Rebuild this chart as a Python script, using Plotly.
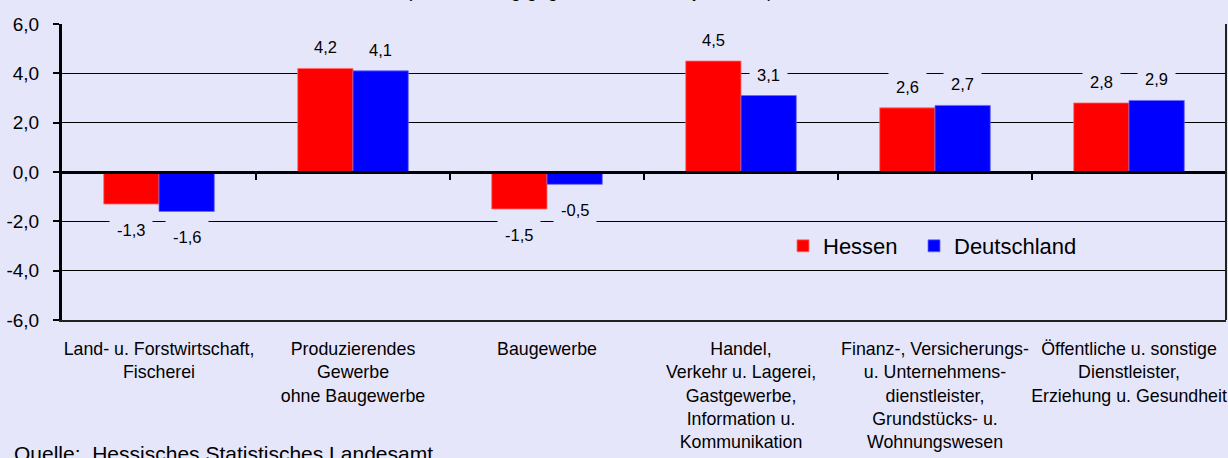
import plotly.graph_objects as go

# ---- data ----
categories = ["Land- u. Forstwirtschaft", "Produzierendes Gewerbe", "Baugewerbe",
              "Handel", "Finanzdienstleister", "Öffentliche Dienstleister"]
tick_labels = [
    "Land- u. Forstwirtschaft,<br>Fischerei",
    "Produzierendes<br>Gewerbe<br>ohne Baugewerbe",
    "Baugewerbe",
    "Handel,<br>Verkehr u. Lagerei,<br>Gastgewerbe,<br>Information u.<br>Kommunikation",
    "Finanz-, Versicherungs-<br>u. Unternehmens-<br>dienstleister,<br>Grundstücks- u.<br>Wohnungswesen",
    "Öffentliche u. sonstige<br>Dienstleister,<br>Erziehung u. Gesundheit",
]
hessen = [-1.3, 4.2, -1.5, 4.5, 2.6, 2.8]
deutschland = [-1.6, 4.1, -0.5, 3.1, 2.7, 2.9]
series_names = ["Hessen", "Deutschland"]
y_ticks = [-6, -4, -2, 0, 2, 4, 6]

# ---- styling ----
BG = "#E6E6FA"
RED = "#FF0000"
BLUE = "#0000FF"
W, H = 1228, 458
ML, MR, MT, MB = 62, 2, 24, 138
PW = W - ML - MR
PH = H - MT - MB
BARGAP = 0.43
REG = "Liberation Sans, Arial, sans-serif"


def fmt(v):
    return f"{v:.1f}".replace(".", ",")


def px_x(p):
    return (p - ML) / PW


def px_y(p):
    return (PH - (p - MT)) / PH


fig = go.Figure()
fig.add_trace(go.Bar(x=categories, y=hessen, name=series_names[0], legend="legend",
                     marker=dict(color=RED, line=dict(color="#FF7070", width=0.8))))
fig.add_trace(go.Bar(x=categories, y=deutschland, name=series_names[1], legend="legend2",
                     marker=dict(color=BLUE, line=dict(color="#6A6AFF", width=0.8))))
# helper trace so the zero-line axis renders
fig.add_trace(go.Scatter(x=[], y=[], xaxis="x2", showlegend=False, hoverinfo="skip"))

cat_px = PW / len(categories)
bar_px = cat_px * (1 - BARGAP) / 2
annotations = []
for vals, sgn in ((hessen, -1), (deutschland, 1)):
    for c, v in zip(categories, vals):
        annotations.append(dict(
            x=c, y=v, xref="x", yref="y", text=fmt(v), showarrow=False,
            xshift=sgn * bar_px / 2, yshift=21 if v >= 0 else -26,
            yanchor="middle", xanchor="center",
            font=dict(family=REG, size=16.5, color="#000000"),
            bgcolor=BG, borderpad=7,
        ))

annotations.append(dict(
    text="(Veränderung gegenüber dem Vorjahr in %)", xref="paper", yref="paper",
    x=px_x(590), y=1, xanchor="center", yanchor="bottom", yshift=21,
    showarrow=False, font=dict(family=REG, size=19, color="#000000")))
annotations.append(dict(
    text="Quelle:  Hessisches Statistisches Landesamt.", xref="paper", yref="paper",
    x=px_x(12), y=px_y(440), xanchor="left", yanchor="top",
    showarrow=False, font=dict(family=REG, size=21, color="#000000")))

shapes = [
    # legend background that interrupts the gridlines
    dict(type="rect", xref="paper", yref="paper", layer="between",
         x0=px_x(757), x1=px_x(1112), y0=px_y(292), y1=px_y(200),
         fillcolor=BG, line=dict(width=0)),
    # right border
    dict(type="line", xref="paper", yref="paper", x0=1, x1=1, y0=0, y1=1,
         line=dict(color="#222222", width=2)),
]

legend_common = dict(orientation="h", xanchor="left", yanchor="middle",
                     bgcolor="rgba(0,0,0,0)", y=px_y(246),
                     font=dict(family=REG, size=22, color="#000000"))

fig.update_layout(
    width=W, height=H,
    margin=dict(l=ML, r=MR, t=MT, b=MB, pad=0, autoexpand=False),
    paper_bgcolor=BG, plot_bgcolor=BG,
    barmode="group", bargap=BARGAP, bargroupgap=0,
    separators=",.",
    showlegend=True,
    legend=dict(x=px_x(783), **legend_common),
    legend2=dict(x=px_x(914), **legend_common),
    xaxis=dict(type="category", categoryorder="array", categoryarray=categories,
               tickmode="array", tickvals=categories, ticktext=tick_labels,
               range=[-0.5, len(categories) - 0.5], tickangle=0, automargin=False,
               showgrid=False, zeroline=False, showline=True,
               linecolor="#222222", linewidth=2, ticks="", ticklabelstandoff=12,
               tickfont=dict(family=REG, size=17.8, color="#000000")),
    xaxis2=dict(overlaying="x", anchor="free", position=0.5,
                range=[-0.5, len(categories) - 0.5], automargin=False,
                tickmode="array", tickvals=[i + 0.5 for i in range(len(categories) - 1)],
                ticks="outside", ticklen=6, tickwidth=1.5, tickcolor="#000000",
                showticklabels=False, showgrid=False, zeroline=False,
                showline=True, linecolor="#000000", linewidth=2.5, layer="above traces"),
    yaxis=dict(range=[-6, 6], tickmode="array", tickvals=y_ticks,
               ticktext=[fmt(v) for v in y_ticks], automargin=False,
               showgrid=True, gridcolor="#000000", gridwidth=1.3,
               zeroline=False, showline=True, linecolor="#000000", linewidth=3,
               ticks="outside", ticklen=6, tickwidth=2, tickcolor="#000000",
               ticklabelstandoff=10,
               tickfont=dict(family=REG, size=19, color="#000000")),
    annotations=annotations,
    shapes=shapes,
)

fig.write_html("out.html", config={"displayModeBar": False},
               post_script="document.body.style.margin='0';"
                           "document.body.style.overflow='hidden';"
                           "document.body.style.background='" + BG + "';")
